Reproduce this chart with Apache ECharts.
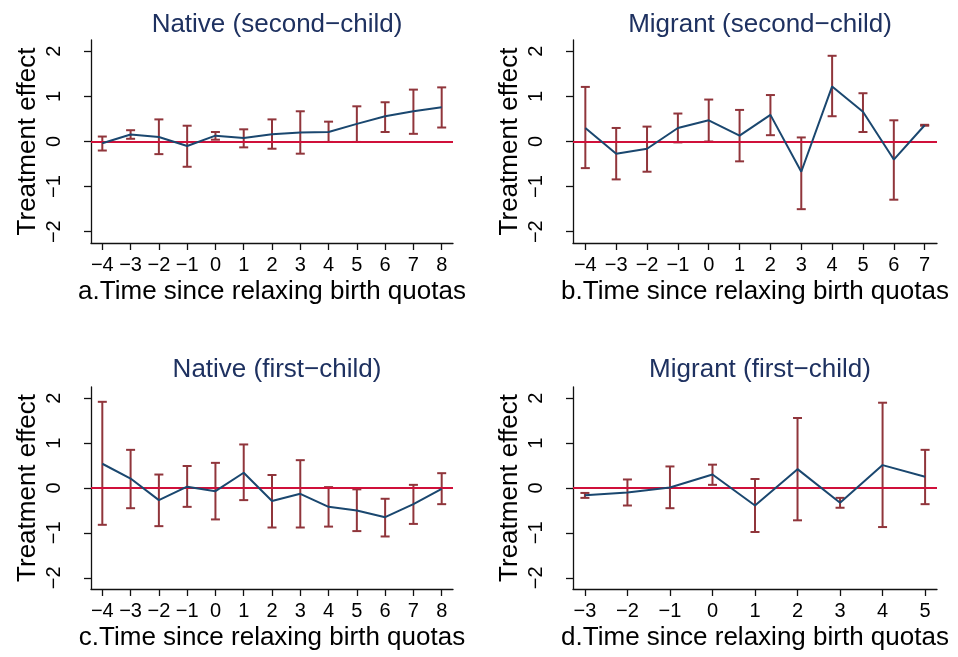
<!DOCTYPE html>
<html>
<head>
<meta charset="utf-8">
<script src="https://cdn.jsdelivr.net/npm/echarts@6/dist/echarts.min.js"></script>
<style>html,body{margin:0;padding:0;background:#fff}#c{width:958px;height:657px}</style>
</head>
<body>
<div id="c"></div>
<script>
// Panel titles and axis names
const titles = ['Native (second\u2212child)', 'Migrant (second\u2212child)', 'Native (first\u2212child)', 'Migrant (first\u2212child)'];
const xNames = ['a.Time since relaxing birth quotas', 'b.Time since relaxing birth quotas', 'c.Time since relaxing birth quotas', 'd.Time since relaxing birth quotas'];
const yName = 'Treatment effect';
const yTicks = [-2, -1, 0, 1, 2];

// a. Native (second-child)
const xA = [-4, -3, -2, -1, 0, 1, 2, 3, 4, 5, 6, 7, 8];
const estA = [-0.04, 0.155, 0.10, -0.10, 0.13, 0.08, 0.16, 0.20, 0.21, 0.39, 0.56, 0.67, 0.76];
const loA = [-0.20, 0.06, -0.28, -0.56, 0.04, -0.13, -0.16, -0.27, -0.01, -0.01, 0.21, 0.17, 0.31];
const hiA = [0.11, 0.25, 0.49, 0.35, 0.21, 0.27, 0.49, 0.67, 0.44, 0.78, 0.87, 1.15, 1.20];

// b. Migrant (second-child)
const xB = [-4, -3, -2, -1, 0, 1, 2, 3, 4, 5, 6, 7];
const estB = [0.30, -0.27, -0.16, 0.30, 0.47, 0.13, 0.59, -0.67, 1.22, 0.66, -0.40, 0.36];
const loB = [-0.59, -0.84, -0.67, -0.02, 0.00, -0.44, 0.14, -1.50, 0.56, 0.21, -1.29, 0.35];
const hiB = [1.21, 0.30, 0.33, 0.62, 0.93, 0.70, 1.03, 0.09, 1.90, 1.07, 0.47, 0.37];

// c. Native (first-child)
const xC = [-4, -3, -2, -1, 0, 1, 2, 3, 4, 5, 6, 7, 8];
const estC = [0.54, 0.21, -0.27, 0.03, -0.07, 0.34, -0.29, -0.13, -0.42, -0.50, -0.65, -0.36, -0.02];
const loC = [-0.82, -0.45, -0.85, -0.42, -0.70, -0.27, -0.88, -0.88, -0.86, -0.96, -1.08, -0.80, -0.36];
const hiC = [1.92, 0.85, 0.30, 0.49, 0.56, 0.97, 0.29, 0.62, 0.02, -0.03, -0.24, 0.07, 0.33];

// d. Migrant (first-child)
const xD = [-3, -2, -1, 0, 1, 2, 3, 4, 5];
const estD = [-0.16, -0.10, 0.01, 0.30, -0.39, 0.42, -0.33, 0.51, 0.25];
const loD = [-0.22, -0.39, -0.45, 0.07, -0.98, -0.72, -0.44, -0.87, -0.36];
const hiD = [-0.11, 0.19, 0.48, 0.52, 0.20, 1.56, -0.22, 1.90, 0.85];

const panels = [
  {x: xA, est: estA, lo: loA, hi: hiA, grid: {left: 91, top: 40, width: 362, height: 203}, xr: [-4.4, 8.4], tTop: 8},
  {x: xB, est: estB, lo: loB, hi: hiB, grid: {left: 573, top: 40, width: 364, height: 203}, xr: [-4.4, 7.4], tTop: 8},
  {x: xC, est: estC, lo: loC, hi: hiC, grid: {left: 91, top: 387, width: 362, height: 202}, xr: [-4.4, 8.4], tTop: 353},
  {x: xD, est: estD, lo: loD, hi: hiD, grid: {left: 573, top: 387, width: 364, height: 202}, xr: [-3.28, 5.28], tTop: 353}
];

const FONT = "'Liberation Sans', Arial, Helvetica, sans-serif";
const LINE = '#1a476f', CI = '#90353b', ZERO = '#d0103a', TITLE = '#1e3160';
const fmt = v => String(v).replace('-', '\u2212');

const option = {
  backgroundColor: '#fff',
  animation: false,
  title: [], grid: [], xAxis: [], yAxis: [], series: []
};

panels.forEach((p, i) => {
  option.title.push({
    text: titles[i], left: p.grid.left + p.grid.width / 2, top: p.tTop - 1, textAlign: 'center',
    textStyle: {fontFamily: FONT, fontSize: 26, fontWeight: 'normal', color: TITLE}
  });
  option.grid.push(Object.assign({containLabel: false}, p.grid));
  option.xAxis.push({
    type: 'value', gridIndex: i, min: p.xr[0], max: p.xr[1],
    name: xNames[i], nameLocation: 'middle', nameGap: 36,
    nameTextStyle: {fontFamily: FONT, fontSize: 26, color: '#000'},
    axisLine: {show: true, onZero: false, lineStyle: {color: '#111', width: 1.3}},
    axisTick: {show: true, length: 7, customValues: p.x, lineStyle: {color: '#111', width: 1.3}},
    axisLabel: {customValues: p.x, formatter: fmt, margin: 12, fontFamily: FONT, fontSize: 20, color: '#000'},
    splitLine: {show: false}
  });
  option.yAxis.push({
    type: 'value', gridIndex: i, min: -2.25, max: 2.25,
    name: yName, nameLocation: 'middle', nameGap: 50, nameRotate: 90,
    nameTextStyle: {fontFamily: FONT, fontSize: 26, color: '#000'},
    axisLine: {show: true, onZero: false, lineStyle: {color: '#111', width: 1.3}},
    axisTick: {show: true, length: 7, customValues: yTicks, lineStyle: {color: '#111', width: 1.3}},
    axisLabel: {customValues: yTicks, formatter: fmt, rotate: 90, margin: 27, fontFamily: FONT, fontSize: 20, color: '#000'},
    splitLine: {show: false}
  });
  option.series.push({
    type: 'custom', xAxisIndex: i, yAxisIndex: i, z: 2, silent: true,
    data: p.x.map((x, k) => [x, p.lo[k], p.hi[k]]),
    encode: {x: 0, y: [1, 2]},
    renderItem: function (params, api) {
      const a = api.coord([api.value(0), api.value(1)]);
      const b = api.coord([api.value(0), api.value(2)]);
      const hw = 4.5;
      const st = {stroke: CI, lineWidth: 2};
      return {type: 'group', children: [
        {type: 'line', shape: {x1: a[0], y1: a[1], x2: b[0], y2: b[1]}, style: st},
        {type: 'line', shape: {x1: a[0] - hw, y1: a[1], x2: a[0] + hw, y2: a[1]}, style: st},
        {type: 'line', shape: {x1: b[0] - hw, y1: b[1], x2: b[0] + hw, y2: b[1]}, style: st}
      ]};
    }
  });
  option.series.push({
    type: 'line', xAxisIndex: i, yAxisIndex: i, z: 4, silent: true,
    data: p.x.map((x, k) => [x, p.est[k]]),
    showSymbol: false, symbol: 'none',
    lineStyle: {color: LINE, width: 2},
    markLine: {
      silent: true, symbol: 'none', label: {show: false}, z: 3,
      lineStyle: {color: ZERO, width: 2, type: 'solid'},
      data: [{yAxis: 0}]
    }
  });
});

const chart = echarts.init(document.getElementById('c'), null, {renderer: 'canvas'});
chart.setOption(option);
</script>
</body>
</html>
